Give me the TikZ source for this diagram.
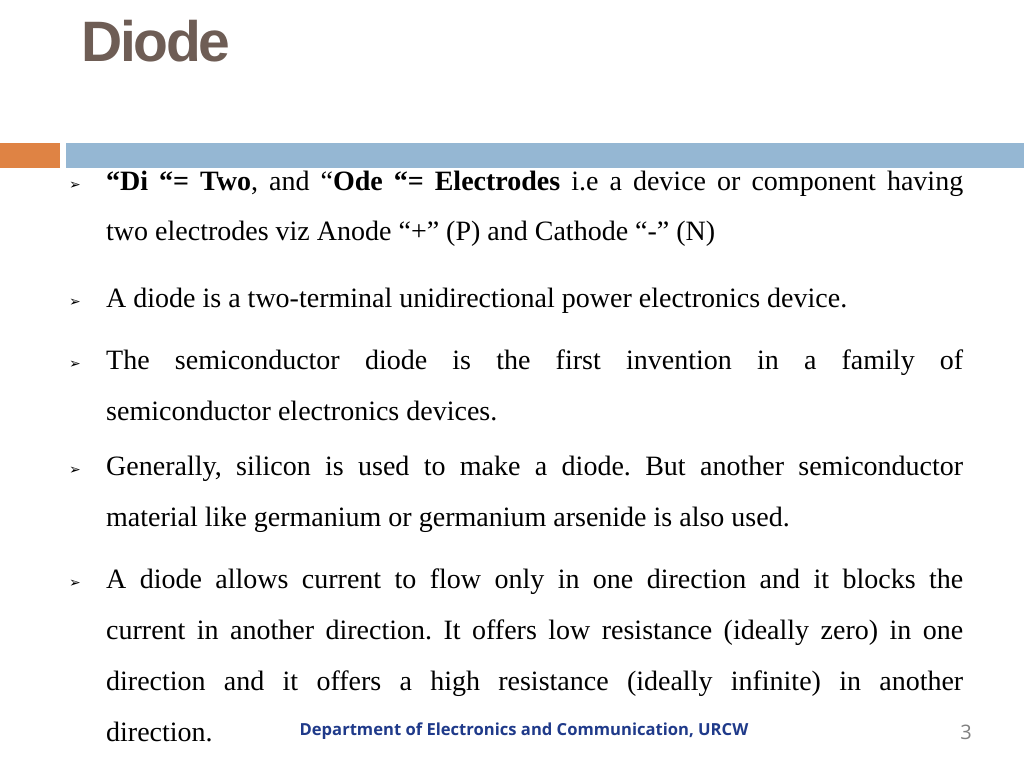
\documentclass[tikz,border=0pt]{standalone}
\usepackage{fontspec}
\setmainfont{Liberation Serif}
\newfontfamily\sansf{Liberation Sans}
\newfontfamily\notof{Open Sans}
\newfontfamily\dejav{DejaVu Sans}
\definecolor{titlec}{HTML}{6E5D55}
\definecolor{orangec}{HTML}{DF8344}
\definecolor{bluec}{HTML}{95B7D3}
\definecolor{footc}{HTML}{1F3A8A}
\frenchspacing
\begin{document}
\begin{tikzpicture}[x=1pt,y=-1pt,
  txt/.style={anchor=base west,inner sep=0pt,font=\fontsize{28}{32}\selectfont},
  bul/.style={anchor=base,inner sep=0pt,font=\dejav\fontsize{14}{16}\selectfont}]
\useasboundingbox (0,0) rectangle (1024,768);
\fill[white] (0,0) rectangle (1024,768);
\node[anchor=base west,inner sep=0pt,text=titlec,font=\sansf\bfseries\fontsize{57}{62}\selectfont] (title) at (81,62) {\addfontfeature{LetterSpace=-4}Diode};
\fill[orangec] (0,143) rectangle (60,168);
\fill[bluec] (66,143) rectangle (1024,168);
\def\W{857pt}
\node[bul] (b1) at (75,189) {➢};
\node[txt] (l1) at (106,190) {\makebox[\W][s]{\textbf{“Di “= Two}, and “\textbf{Ode “= Electrodes} i.e a device or component having}};
\node[txt] (l2) at (106,240) {two electrodes viz Anode “+” (P) and Cathode “-” (N)};
\node[bul] (b2) at (75,306) {➢};
\node[txt] (l3) at (106,307) {A diode is a two-terminal unidirectional power electronics device.};
\node[bul] (b3) at (75,368) {➢};
\node[txt] (l4) at (106,369) {\makebox[\W][s]{The semiconductor diode is the first invention in a family of}};
\node[txt] (l5) at (106,420) {semiconductor electronics devices.};
\node[bul] (b4) at (75,474) {➢};
\node[txt] (l6) at (106,475) {\makebox[\W][s]{Generally, silicon is used to make a diode. But another semiconductor}};
\node[txt] (l7) at (106,526) {material like germanium or germanium arsenide is also used.};
\node[bul] (b5) at (75,587) {➢};
\node[txt] (l8) at (106,588) {\makebox[\W][s]{A diode allows current to flow only in one direction and it blocks the}};
\node[txt] (l9) at (106,639) {\makebox[\W][s]{current in another direction. It offers low resistance (ideally zero) in one}};
\node[txt] (l10) at (106,690) {\makebox[\W][s]{direction and it offers a high resistance (ideally infinite) in another}};
\node[txt] (l11) at (106,741) {direction.};
\node[anchor=base,inner sep=0pt,text=footc,font=\notof\bfseries\fontsize{16.6}{18}\selectfont] (foot) at (524,735) {Department of Electronics and Communication, URCW};
\node[anchor=base,inner sep=0pt,text=gray,font=\notof\fontsize{20}{22}\selectfont] (pg) at (966,739) {3};
\end{tikzpicture}
\end{document}
